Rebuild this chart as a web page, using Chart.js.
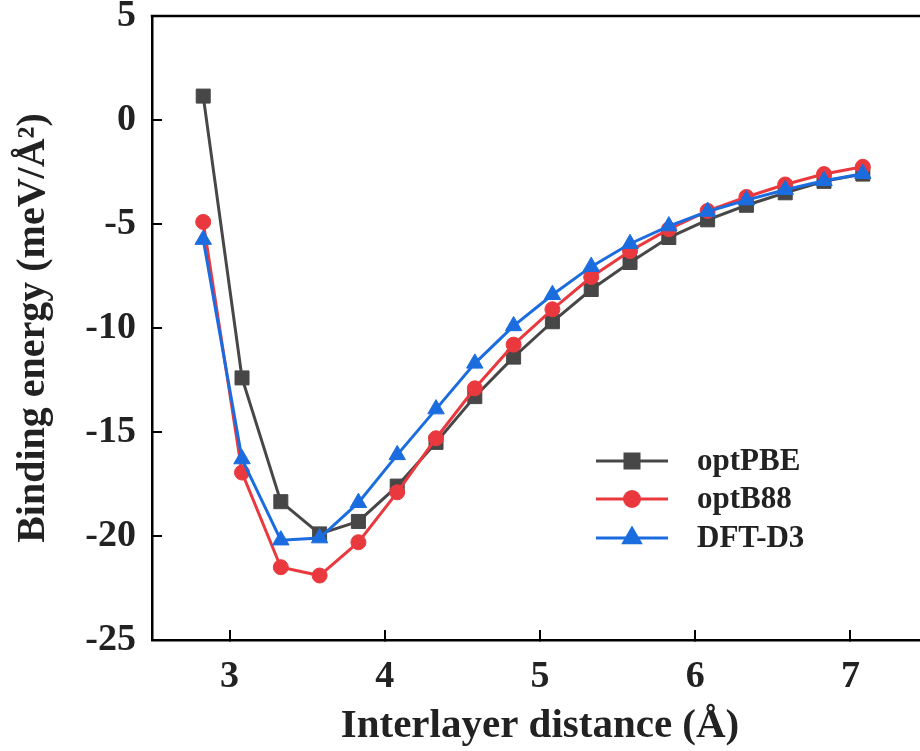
<!DOCTYPE html>
<html>
<head>
<meta charset="utf-8">
<script src="https://cdn.jsdelivr.net/npm/chart.js@4/dist/chart.umd.min.js"></script>
<style>
  html, body { margin: 0; padding: 0; background: #fff; overflow: hidden; }
  #wrap { width: 920px; height: 751px; overflow: hidden; }
</style>
</head>
<body>
<div id="wrap"><canvas id="energy" width="928" height="751"></canvas></div>
<script>
const distance = [2.83, 3.08, 3.33, 3.58, 3.83, 4.08, 4.33, 4.58, 4.83, 5.08, 5.33, 5.58, 5.83, 6.08, 6.33, 6.58, 6.83, 7.08];
const optPBE = [1.15, -12.4, -18.35, -19.9, -19.3, -17.6, -15.5, -13.3, -11.4, -9.7, -8.15, -6.85, -5.65, -4.8, -4.1, -3.5, -2.95, -2.6];
const optB88 = [-4.9, -16.95, -21.5, -21.9, -20.3, -17.9, -15.3, -12.9, -10.8, -9.1, -7.55, -6.3, -5.25, -4.37, -3.7, -3.1, -2.6, -2.25];
const dftD3 = [-5.75, -16.3, -20.2, -20.1, -18.4, -16.1, -13.9, -11.7, -9.9, -8.4, -7.05, -5.95, -5.1, -4.4, -3.85, -3.35, -2.92, -2.58];
const xTicks = [3, 4, 5, 6, 7];
const yTicks = [-25, -20, -15, -10, -5, 0, 5];

const FONT = "'Liberation Serif', 'Times New Roman', serif";
const INK = '#222222';

function points(ys) {
  return distance.map((x, i) => ({ x: x, y: ys[i] }));
}

// frame top line + legend drawn inside the plot
const frameAndLegend = {
  id: 'frameAndLegend',
  afterDraw(chart) {
    const ctx = chart.ctx;
    const area = chart.chartArea;
    ctx.save();
    ctx.strokeStyle = '#000';
    ctx.lineWidth = 2.5;
    ctx.beginPath();
    ctx.moveTo(area.left - 1.25, area.top);
    ctx.lineTo(area.right, area.top);
    ctx.stroke();

    const rows = [461, 499, 538];
    chart.data.datasets.forEach((ds, i) => {
      const y = rows[i];
      ctx.strokeStyle = ds.borderColor;
      ctx.lineWidth = 3;
      ctx.beginPath();
      ctx.moveTo(596, y);
      ctx.lineTo(668, y);
      ctx.stroke();
      Chart.helpers.drawPoint(ctx, {
        pointStyle: ds.pointStyle,
        radius: ds.pointRadius,
        borderWidth: 1
      }, 632, y);
      ctx.fillStyle = ds.pointBackgroundColor;
      ctx.strokeStyle = ds.pointBorderColor;
      ctx.fill();
      ctx.fillStyle = INK;
      ctx.font = 'bold 31px ' + FONT;
      ctx.textBaseline = 'middle';
      ctx.textAlign = 'left';
      ctx.fillText(ds.label, 697, y + 1);
    });
    ctx.restore();
  }
};

new Chart(document.getElementById('energy'), {
  type: 'line',
  data: {
    datasets: [{
      label: 'optPBE',
      data: points(optPBE),
      borderColor: '#474747',
      pointBackgroundColor: '#474747',
      pointBorderColor: '#474747',
      pointStyle: 'rect',
      pointRadius: 9.9,
      order: 3
    }, {
      label: 'optB88',
      data: points(optB88),
      borderColor: '#ea393e',
      pointBackgroundColor: '#ea393e',
      pointBorderColor: '#ea393e',
      pointStyle: 'circle',
      pointRadius: 7.5,
      order: 2
    }, {
      label: 'DFT-D3',
      data: points(dftD3),
      borderColor: '#1b6ddf',
      pointBackgroundColor: '#1b6ddf',
      pointBorderColor: '#1b6ddf',
      pointStyle: 'triangle',
      pointRadius: 9.5,
      order: 1
    }]
  },
  options: {
    responsive: false,
    animation: false,
    devicePixelRatio: 1,
    layout: { autoPadding: false, padding: { top: 16, left: 0, right: 0, bottom: 0 } },
    elements: {
      line: { borderWidth: 3, tension: 0 },
      point: { borderWidth: 1 }
    },
    plugins: {
      legend: { display: false },
      tooltip: { enabled: false }
    },
    scales: {
      x: {
        type: 'linear',
        min: 2.5,
        max: 7.5,
        afterFit: (scale) => {
          scale.height = 111;
          scale.paddingLeft = 0;
          scale.paddingRight = 0;
        },
        afterBuildTicks: (scale) => { scale.ticks = xTicks.map(v => ({ value: v })); },
        border: { display: true, color: '#000', width: 2.5 },
        grid: { drawOnChartArea: false, drawTicks: true, tickLength: -10, color: '#000', lineWidth: 2 },
        ticks: { color: INK, padding: 24, maxRotation: 0, font: { family: FONT, size: 38, weight: 'bold' } },
        title: {
          display: true,
          text: 'Interlayer distance (Å)',
          color: INK,
          padding: { top: 0, bottom: 0 },
          font: { family: FONT, size: 41, weight: 'bold' }
        }
      },
      y: {
        min: -25,
        max: 5,
        afterFit: (scale) => {
          scale.width = 152;
          scale.paddingTop = 0;
          scale.paddingBottom = 0;
        },
        afterBuildTicks: (scale) => { scale.ticks = yTicks.map(v => ({ value: v })); },
        border: { display: true, color: '#000', width: 2.5 },
        grid: { drawOnChartArea: false, drawTicks: true, tickLength: -10, color: '#000', lineWidth: 2 },
        ticks: { color: INK, padding: 26, font: { family: FONT, size: 38, weight: 'bold' } },
        title: {
          display: true,
          text: 'Binding energy (meV/Å²)',
          color: INK,
          padding: { top: 10, bottom: 0 },
          font: { family: FONT, size: 40, weight: 'bold' }
        }
      }
    }
  },
  plugins: [frameAndLegend]
});
</script>
</body>
</html>
